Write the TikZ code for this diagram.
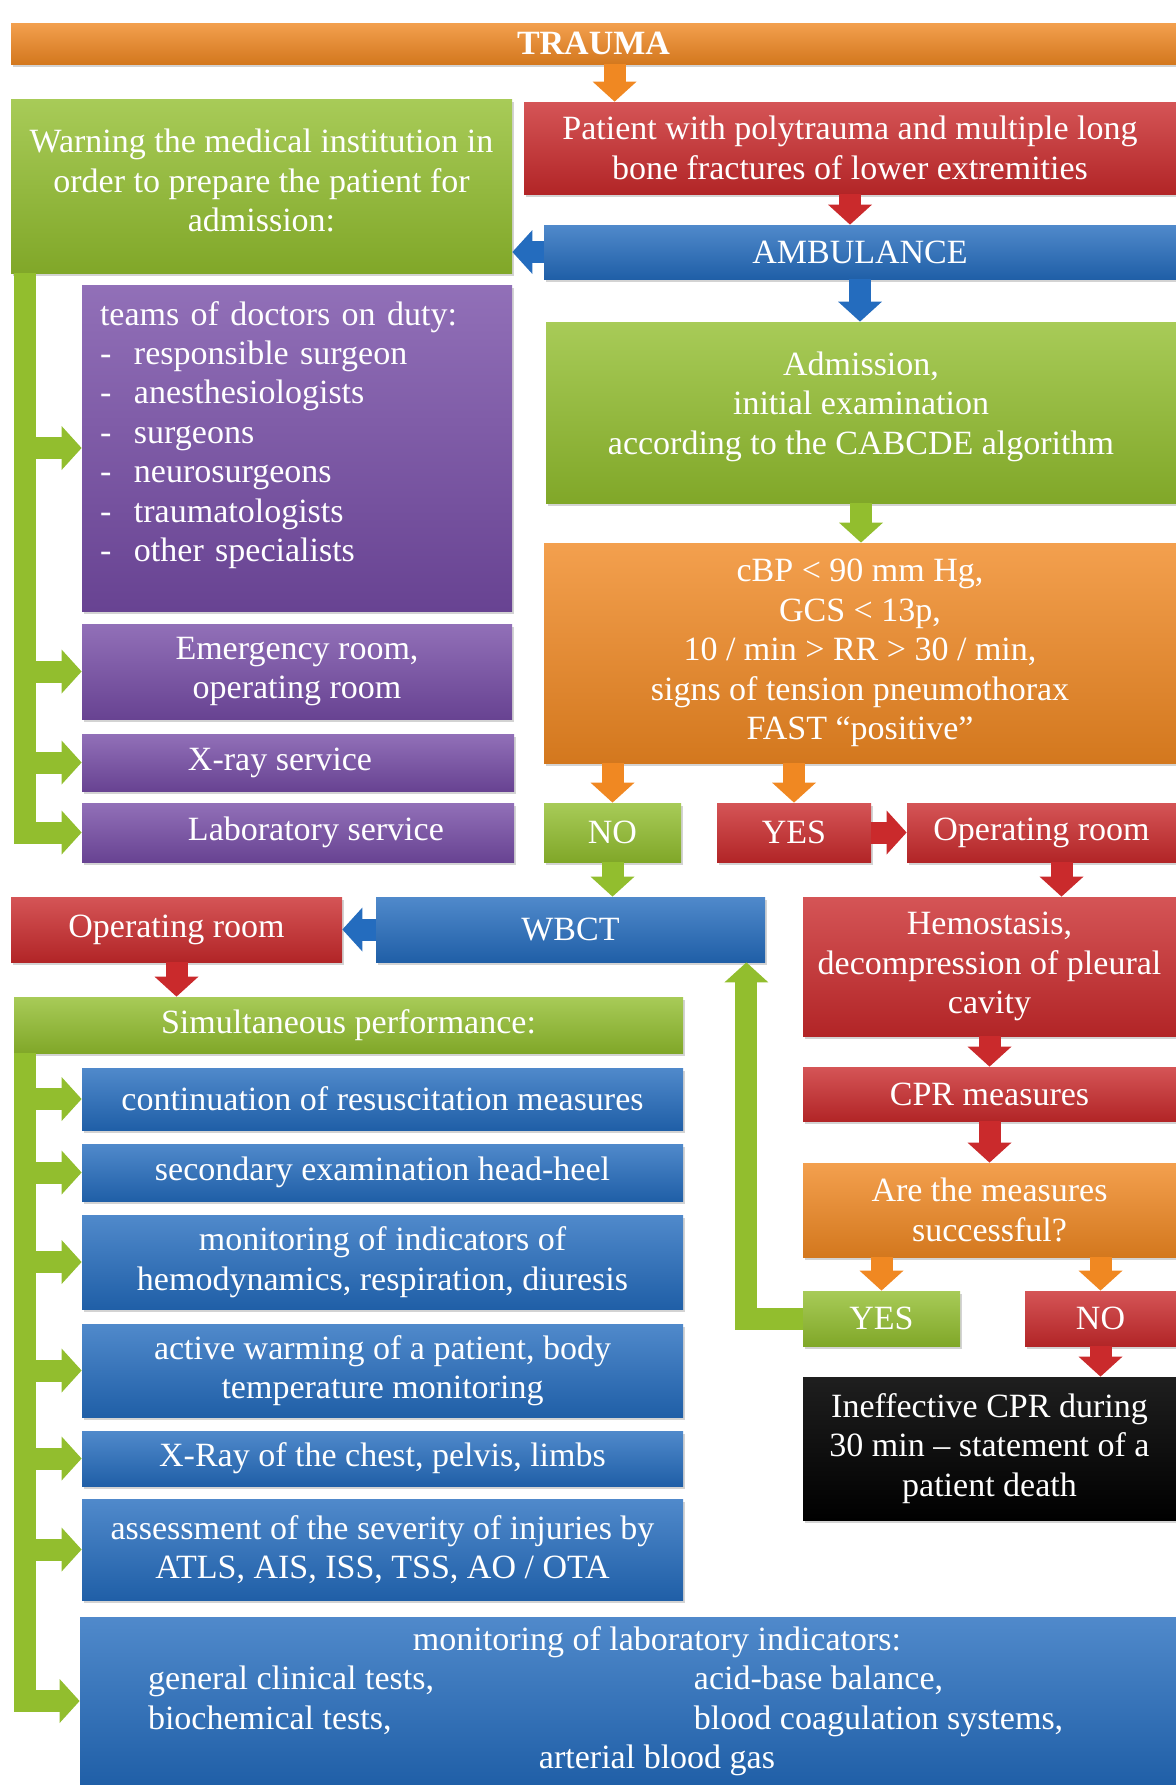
\documentclass[tikz,border=0pt]{standalone}
\usepackage{fontspec}
\setmainfont{Liberation Serif}
\usetikzlibrary{arrows.meta}
\usetikzlibrary{positioning}
\usetikzlibrary{shadows}
\definecolor{tOrange}{RGB}{240,136,34}
\definecolor{tRed}{RGB}{202,42,44}
\definecolor{tGreen}{RGB}{146,190,46}
\definecolor{tBlue}{RGB}{36,108,190}
\definecolor{tPurple}{RGB}{118,76,166}
\newcommand{\lidash}{\makebox[17pt][l]{-}}

\begin{document}
\begin{tikzpicture}[x=0.5pt,y=-0.5pt,
					>={Triangle[width=22pt,length=10pt,line width=0pt]},
					font=\fontsize{17}{19.7}\selectfont,
					box/.style={text=white,align=center,inner sep=1pt,
						drop shadow={shadow xshift=1.2pt,shadow yshift=-1.5pt,opacity=.35}},
					cbox/.style={box,top color=#1!80!white,middle color=#1,bottom color=#1!88!black},
					flow/.style={->,line width=11pt,draw=#1}]
					\useasboundingbox (0,0) rectangle (1176,1785);
					
					\node[cbox=tOrange,minimum width=582.5pt,minimum height=20.5pt,font=\fontsize{17}{19.7}\selectfont\bfseries] (trauma) at (593.5,43.5) {TRAUMA};
					\node[cbox=tGreen,minimum width=250.5pt,minimum height=87pt]   (warn)    at (261.5,186)   {Warning the medical institution in\\order to prepare the patient for\\admission:\\[-14pt]\mbox{}};
					\node[cbox=tRed,minimum width=326pt,minimum height=46pt]       (patient) at (850,148)     {Patient with polytrauma and multiple long\\bone fractures of lower extremities};
					\node[cbox=tBlue,minimum width=316pt,minimum height=27pt]      (amb)     at (860,252)     {AMBULANCE};
					\node[cbox=tGreen,minimum width=315pt,minimum height=90.5pt]   (adm)     at (861,412.5)   {Admission,\\initial examination\\according to the CABCDE algorithm\\[-10pt]\mbox{}};
					\node[cbox=tPurple,minimum width=215pt,minimum height=163pt,text width=197pt,align=left] (teams) at (297,448) {teams of doctors on duty:\\\lidash responsible surgeon\\\lidash anesthesiologists\\\lidash surgeons\\\lidash neurosurgeons\\\lidash traumatologists\\\lidash other specialists\\[-3pt]\mbox{}};
					\node[cbox=tPurple,minimum width=215pt,minimum height=47.5pt]  (emerg)   at (297,671.5)   {Emergency room,\\operating room};
					\node[cbox=tPurple,minimum width=216pt,minimum height=28.5pt]  (xray)    at (298,762.5)   {\makebox[196pt][l]{\hspace*{43pt}X-ray service}};
					\node[cbox=tPurple,minimum width=216pt,minimum height=29.5pt]  (lab)     at (298,832.5)   {\makebox[196pt][l]{\hspace*{43pt}Laboratory service}};
					\node[cbox=tOrange,minimum width=316pt,minimum height=110pt]   (crit)    at (860,653)     {cBP \textless{} 90 mm Hg,\\GCS \textless{} 13p,\\10 / min \textgreater{} RR \textgreater{} 30 / min,\\signs of tension pneumothorax\\FAST ``positive''};
					\node[cbox=tGreen,minimum width=68.5pt,minimum height=29.5pt]  (no1)     at (612.5,832.5) {NO};
					\node[cbox=tRed,minimum width=77pt,minimum height=29.5pt]      (yes1)    at (794,832.5)   {YES};
					\node[cbox=tRed,minimum width=134.5pt,minimum height=29.5pt]   (opr)     at (1041.5,832.5) {Operating room};
					\node[cbox=tBlue,minimum width=194.5pt,minimum height=32.5pt]  (wbct)    at (570.5,929.5) {WBCT};
					\node[cbox=tRed,minimum width=165.5pt,minimum height=32.5pt]   (opl)     at (176.5,929.5) {Operating room};
					\node[cbox=tRed,minimum width=186.5pt,minimum height=69.5pt]   (hemo)    at (989.5,966.5) {Hemostasis,\\decompression of pleural\\cavity};
					\node[cbox=tGreen,minimum width=334.5pt,minimum height=28pt]   (simul)   at (348.5,1025)  {Simultaneous performance:};
					\node[cbox=tRed,minimum width=186.5pt,minimum height=27pt]     (cpr)     at (989.5,1094)  {CPR measures};
					\node[cbox=tOrange,minimum width=186.5pt,minimum height=47pt]  (succ)    at (989.5,1210)  {Are the measures\\successful?};
					\node[cbox=tGreen,minimum width=78.5pt,minimum height=27.5pt]  (yes2)    at (881.5,1318.5) {YES};
					\node[cbox=tRed,minimum width=75.5pt,minimum height=27.5pt]    (no2)     at (1100.5,1318.5) {NO};
					\node[box,top color=black!88!white,middle color=black,bottom color=black,minimum width=186.5pt,minimum height=71.5pt] (death) at (989.5,1448.5) {Ineffective CPR during\\30 min -- statement of a\\patient death};
					
					\node[cbox=tBlue,minimum width=300.5pt,minimum height=31pt]    (b_1) at (382.5,1099)   {continuation of resuscitation measures};
					\node[cbox=tBlue,minimum width=300.5pt,minimum height=28.5pt]  (b_2) at (382.5,1172.5) {secondary examination head-heel};
					\node[cbox=tBlue,minimum width=300.5pt,minimum height=47pt]    (b_3) at (382.5,1262)   {monitoring of indicators of\\hemodynamics, respiration, diuresis};
					\node[cbox=tBlue,minimum width=300.5pt,minimum height=46.5pt]  (b_4) at (382.5,1370.5) {active warming of a patient, body\\temperature monitoring};
					\node[cbox=tBlue,minimum width=300.5pt,minimum height=27.5pt]  (b_5) at (382.5,1458.5) {X-Ray of the chest, pelvis, limbs};
					\node[cbox=tBlue,minimum width=300.5pt,minimum height=50.5pt]  (b_6) at (382.5,1549.5) {assessment of the severity of injuries by\\ATLS, AIS, ISS, TSS, AO / OTA};
					\node[cbox=tBlue,minimum width=548pt,minimum height=84pt,align=left] (b_7) at (628,1701) {\hspace*{29pt}\makebox[480pt][c]{monitoring of laboratory indicators:}\\\hspace*{14.5pt}\makebox[273pt][l]{general clinical tests,}acid-base balance,\\\hspace*{14.5pt}\makebox[273pt][l]{biochemical tests,}blood coagulation systems,\\\hspace*{29pt}\makebox[480pt][c]{arterial blood gas}};
					
					\coordinate (p_in) at ([xshift=45.5pt]patient.north west);
					\coordinate (o_out) at ([xshift=10pt]opr.south);
					
					\draw[flow=tOrange] (p_in |- trauma.south) -- (p_in);
					\draw[flow=tRed]    (patient.south) -- (patient.south |- amb.north);
					\draw[flow=tBlue]   (amb.west) -- (amb.west -| warn.east);
					\draw[flow=tBlue]   (amb.south) -- (amb.south |- adm.north);
					\draw[flow=tGreen]  (adm.south) -- (adm.south |- crit.north);
					\draw[flow=tOrange] (no1.north |- crit.south) -- (no1.north);
					\draw[flow=tOrange] (yes1.north |- crit.south) -- (yes1.north);
					\draw[flow=tRed]    (yes1.east) -- (opr.west);
					\draw[flow=tRed]    (o_out) -- (o_out |- hemo.north);
					\draw[flow=tGreen]  (no1.south) -- (no1.south |- wbct.north);
					\draw[flow=tBlue]   (wbct.west) -- (opl.east);
					\draw[flow=tRed]    (opl.south) -- (opl.south |- simul.north);
					\draw[flow=tRed]    (hemo.south) -- (cpr.north);
					\draw[flow=tRed]    (cpr.south) -- (succ.north);
					\draw[flow=tOrange] (yes2.north |- succ.south) -- (yes2.north);
					\draw[flow=tOrange] (no2.north |- succ.south) -- (no2.north);
					\draw[flow=tRed]    (no2.south) -- (death.north -| no2.south);
					\draw[flow=tGreen]  (yes2.west) -| ([xshift=-9.5pt]wbct.south east);
					
					\draw[flow=tGreen] ([xshift=7pt]warn.south west) |- (teams.west);
					\draw[flow=tGreen] ([xshift=7pt]warn.south west) |- (emerg.west);
					\draw[flow=tGreen] ([xshift=7pt]warn.south west) |- (xray.west);
					\draw[flow=tGreen] ([xshift=7pt]warn.south west) |- (lab.west);
					
					\draw[flow=tGreen] ([xshift=5.5pt]simul.south west) |- (b_1.west);
					\draw[flow=tGreen] ([xshift=5.5pt]simul.south west) |- (b_2.west);
					\draw[flow=tGreen] ([xshift=5.5pt]simul.south west) |- (b_3.west);
					\draw[flow=tGreen] ([xshift=5.5pt]simul.south west) |- (b_4.west);
					\draw[flow=tGreen] ([xshift=5.5pt]simul.south west) |- (b_5.west);
					\draw[flow=tGreen] ([xshift=5.5pt]simul.south west) |- (b_6.west);
					\draw[flow=tGreen] ([xshift=5.5pt]simul.south west) |- (b_7.west);
\end{tikzpicture}
\end{document}
